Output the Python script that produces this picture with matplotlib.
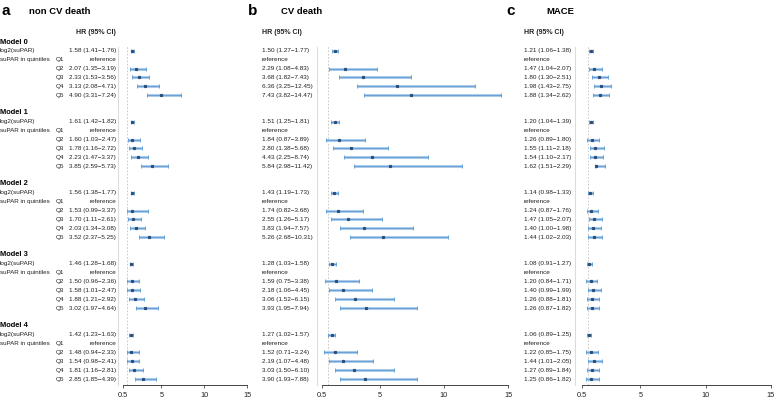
import matplotlib
matplotlib.use('Agg')
import matplotlib.pyplot as plt
from matplotlib.lines import Line2D
from matplotlib.transforms import blended_transform_factory

plt.rcParams['font.family'] = ['Liberation Sans', 'DejaVu Sans']
plt.rcParams['text.color'] = '#222222'

models = ['Model 0', 'Model 1', 'Model 2', 'Model 3', 'Model 4']
quintiles = ['Q2', 'Q3', 'Q4', 'Q5']
outcomes = ['non CV death', 'CV death', 'MACE']
panel_letters = ['a', 'b', 'c']

# per outcome, per model: [log2, Q2, Q3, Q4, Q5]
noncv_hr = [[1.58, 2.07, 2.33, 3.13, 4.90],
            [1.61, 1.60, 1.78, 2.23, 3.85],
            [1.56, 1.53, 1.70, 2.03, 3.52],
            [1.46, 1.50, 1.58, 1.88, 3.02],
            [1.42, 1.48, 1.54, 1.81, 2.85]]
noncv_lo = [[1.41, 1.35, 1.53, 2.08, 3.31],
            [1.42, 1.03, 1.16, 1.47, 2.59],
            [1.38, 0.99, 1.11, 1.34, 2.37],
            [1.28, 0.96, 1.01, 1.21, 1.97],
            [1.23, 0.94, 0.98, 1.16, 1.85]]
noncv_hi = [[1.76, 3.19, 3.56, 4.71, 7.24],
            [1.82, 2.47, 2.72, 3.37, 5.73],
            [1.77, 3.37, 2.61, 3.08, 5.25],
            [1.68, 2.36, 2.47, 2.92, 4.64],
            [1.63, 2.33, 2.41, 2.81, 4.39]]

cv_hr = [[1.50, 2.29, 3.68, 6.36, 7.43],
         [1.51, 1.84, 2.80, 4.43, 5.84],
         [1.43, 1.74, 2.55, 3.83, 5.26],
         [1.28, 1.59, 2.18, 3.06, 3.93],
         [1.27, 1.52, 2.19, 3.03, 3.90]]
cv_lo = [[1.27, 1.08, 1.82, 3.25, 3.82],
         [1.25, 0.87, 1.38, 2.25, 2.98],
         [1.19, 0.82, 1.26, 1.94, 2.68],
         [1.03, 0.75, 1.06, 1.52, 1.95],
         [1.02, 0.71, 1.07, 1.50, 1.93]]
cv_hi = [[1.77, 4.83, 7.43, 12.45, 14.47],
         [1.81, 3.89, 5.68, 8.74, 11.42],
         [1.73, 3.68, 5.17, 7.57, 10.31],
         [1.58, 3.38, 4.45, 6.15, 7.94],
         [1.57, 3.24, 4.48, 6.10, 7.88]]

mace_hr = [[1.21, 1.47, 1.80, 1.98, 1.88],
           [1.20, 1.26, 1.55, 1.54, 1.62],
           [1.14, 1.24, 1.47, 1.40, 1.44],
           [1.08, 1.20, 1.40, 1.26, 1.26],
           [1.06, 1.22, 1.44, 1.27, 1.25]]
mace_lo = [[1.06, 1.04, 1.30, 1.43, 1.34],
           [1.04, 0.89, 1.11, 1.10, 1.51],
           [0.98, 0.87, 1.05, 1.00, 1.02],
           [0.91, 0.84, 0.99, 0.88, 0.87],
           [0.89, 0.85, 1.01, 0.89, 0.86]]
mace_hi = [[1.38, 2.07, 2.51, 2.75, 2.62],
           [1.39, 1.80, 2.18, 2.17, 2.29],
           [1.33, 1.76, 2.07, 1.98, 2.03],
           [1.27, 1.71, 1.99, 1.81, 1.82],
           [1.25, 1.75, 2.05, 1.84, 1.82]]

xticks = [0.5, 5, 10, 15]

W, H = 774, 400
row0 = 42.0
row_h = 8.87

# pixel layout per panel
plot_x = [(123, 247), (321.7, 508), (581.7, 770.7)]
sep_x = [118, 317, 575]
hr_x = [116, 262, 524]
hr_ha = ['right', 'left', 'left']
letter_x = [2, 248, 506]
title_x = [29, 281, 546]

data = [(noncv_hr, noncv_lo, noncv_hi),
        (cv_hr, cv_lo, cv_hi),
        (mace_hr, mace_lo, mace_hi)]

fig = plt.figure(figsize=(W / 100, H / 100), dpi=100)

def fx(x):
    return x / W

def fy(y):
    return 1 - y / H

ytop, ybot = 0.5, 38.7
body = 4.6

for p in range(3):
    x0, x1 = plot_x[p]
    top_px = row0 + ytop * row_h
    bot_px = row0 + ybot * row_h
    ax = fig.add_axes([fx(x0), fy(bot_px), fx(x1 - x0), (bot_px - top_px) / H])
    ax.set_xlim(0.5, 15)
    ax.set_ylim(ybot, ytop)
    for s in ['top', 'right', 'left']:
        ax.spines[s].set_visible(False)
    ax.spines['bottom'].set_color('#444444')
    ax.spines['bottom'].set_linewidth(0.7)
    ax.set_yticks([])
    ax.set_xticks(xticks)
    ax.set_xticklabels(['0.5', '5', '10', '15'])
    ax.tick_params(axis='x', labelsize=5.3, length=2.5, width=0.6,
                   color='#444444', labelcolor='#222222', pad=2)
    ax.axvline(1, ls=(0, (2, 2)), color='#c0c0c0', lw=0.6)

    fig.add_artist(Line2D([fx(sep_x[p])] * 2, [fy(47), fy(bot_px)],
                          color='#dcdcdc', lw=0.8))

    tr = blended_transform_factory(fig.transFigure, ax.transData)

    fig.text(fx(letter_x[p]), fy(11), panel_letters[p], fontsize=11,
             fontweight='bold', va='center', ha='left', color='black')
    fig.text(fx(title_x[p]), fy(12), outcomes[p], fontsize=6.8,
             fontweight='bold', va='center', ha='left', color='black')
    fig.text(fx(hr_x[p]), fy(33), 'HR (95% CI)', fontsize=5,
             fontweight='bold', va='center', ha=hr_ha[p])

    hr, lo, hi = data[p]
    for m in range(len(models)):
        base = 8 * m
        if p == 0:
            ax.text(fx(0), base, models[m], transform=tr, fontsize=5.4,
                    fontweight='bold', va='center', ha='left', color='black')
            ax.text(fx(0), base + 1, 'log2(suPAR)', transform=tr,
                    fontsize=body, va='center', ha='left')
            ax.text(fx(0), base + 2, 'suPAR in quintiles', transform=tr,
                    fontsize=body - 0.1, va='center', ha='left')
            ax.text(fx(55.5), base + 2, 'Q1', transform=tr,
                    fontsize=body, va='center', ha='left')
            for k, q in enumerate(quintiles):
                ax.text(fx(55.5), base + 3 + k, q, transform=tr,
                        fontsize=body, va='center', ha='left')
        ax.text(fx(hr_x[p]), base + 2, 'reference', transform=tr,
                fontsize=body, va='center', ha=hr_ha[p])
        rows = [base + 1] + [base + 3 + k for k in range(4)]
        for j, r in enumerate(rows):
            h, l, u = hr[m][j], lo[m][j], hi[m][j]
            ax.text(fx(hr_x[p]), r, '%.2f (%.2f\u2212%.2f)' % (h, l, u),
                    transform=tr, fontsize=body, va='center', ha=hr_ha[p])
            ax.plot([l, u], [r, r], color='#aecbe8', lw=2.2,
                    solid_capstyle='butt', zorder=2)
            ax.plot([l, u], [r, r], color='#5b9bd5', lw=0.6, zorder=3)
            ax.plot([l, u], [r, r], ls='none', marker='|', ms=2.6,
                    mew=0.6, color='#5b9bd5', zorder=3)
            ax.plot([h], [r], ls='none', marker='s', ms=1.3,
                    color='#2b4f7a', zorder=4)

fig.savefig('out.png', dpi=100)
